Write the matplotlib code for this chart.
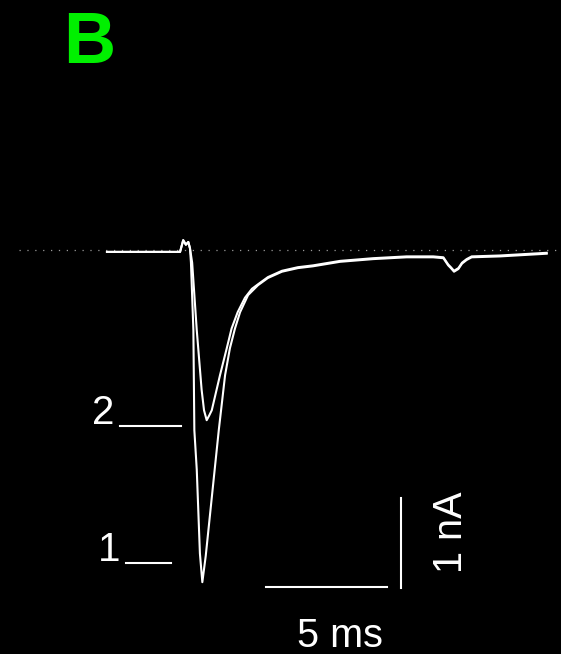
import matplotlib
matplotlib.use("Agg")
import matplotlib.pyplot as plt

plt.rcParams["font.family"] = ["Liberation Sans", "DejaVu Sans"]

# Evoked currents, time in ms, current in nA (baseline = 0)
t_pulse1 = [0.00, 0.95, 2.19, 3.02, 3.15, 3.26, 3.36, 3.43, 3.47, 3.57, 3.61,
            3.71, 3.84, 3.94, 4.08, 4.45, 4.62, 4.88, 5.08, 5.29, 5.50, 5.83,
            6.24, 6.65, 7.23, 7.89, 8.51, 9.63, 11.00, 12.38, 13.48, 13.90,
            14.10, 14.21, 14.34, 14.52, 14.67, 14.86, 15.07, 16.24, 18.17]
i_pulse1 = [-0.01, -0.01, -0.01, -0.01, 0.12, 0.07, 0.10, 0.03, -0.13, -0.88,
            -1.99, -2.43, -3.36, -3.68, -3.39, -2.43, -1.99, -1.38, -1.08,
            -0.86, -0.68, -0.49, -0.38, -0.30, -0.23, -0.19, -0.17, -0.12,
            -0.09, -0.07, -0.07, -0.08, -0.16, -0.19, -0.23, -0.20, -0.14,
            -0.10, -0.07, -0.06, -0.03]

t_pulse2 = [0.00, 0.95, 2.19, 3.02, 3.15, 3.26, 3.36, 3.43, 3.52, 3.71, 3.91,
            4.01, 4.12, 4.22, 4.33, 4.67, 4.95, 5.15, 5.40, 5.70, 5.99, 6.24,
            6.65, 7.23, 7.89, 8.51, 9.63, 11.00, 12.38, 13.48, 13.90, 14.10,
            14.21, 14.34, 14.52, 14.67, 14.86, 15.07, 16.24, 18.17]
i_pulse2 = [-0.01, -0.01, -0.01, -0.01, 0.12, 0.07, 0.10, 0.03, -0.13, -0.88,
            -1.54, -1.77, -1.88, -1.83, -1.77, -1.38, -1.08, -0.86, -0.68,
            -0.52, -0.42, -0.37, -0.29, -0.22, -0.18, -0.16, -0.11, -0.08,
            -0.06, -0.06, -0.07, -0.15, -0.18, -0.22, -0.19, -0.13, -0.09,
            -0.06, -0.05, -0.02]

# peak amplitude markers (nA) and their labels
peak_levels = [-3.47, -1.94]
peak_labels = ["1", "2"]
peak_marks = [(0.79, 2.64), (0.54, 3.06)]

# scale bars: 5 ms and 1 nA
bar_ms = 5.0
bar_na = 1.0

fig = plt.figure(figsize=(5.61, 6.54), dpi=100, facecolor="black")
ax = fig.add_axes([0, 0, 1, 1])
ax.set_facecolor("black")
ax.set_xlim(-4.42, 18.76)
ax.set_ylim(-4.478, 2.789)
ax.axis("off")

# baseline reference
ax.axhline(0.01, xmin=0.033, xmax=0.995, color="#9a9a9a", lw=0.9,
           dashes=(1.0, 5.3))

ax.plot(t_pulse1, i_pulse1, color="white", lw=1.5, solid_joinstyle="round")
ax.plot(t_pulse2, i_pulse2, color="white", lw=1.5, solid_joinstyle="round")

for level, label, (x0, x1) in zip(peak_levels, peak_labels, peak_marks):
    ax.plot([x0, x1], [level, level], color="white", lw=1.5)
    ax.text(x0 - 0.25, level + 0.02, label, color="white", fontsize=29,
            ha="right", va="baseline")

x_bar, y_bar = 6.57, -3.73
ax.plot([x_bar, x_bar + bar_ms], [y_bar, y_bar], color="white", lw=1.5)
ax.plot([12.14, 12.14], [y_bar - 0.01, y_bar - 0.01 + bar_na],
        color="white", lw=1.5)
ax.text(x_bar + bar_ms / 2 + 0.55, -4.40, "5 ms", color="white",
        fontsize=28.5, ha="center", va="baseline")
ax.text(14.21, -3.13, "1 nA", color="white", fontsize=28.5,
        rotation=90, ha="center", va="center")

fig.text(0.1592, 0.9032, "B", color="#00f000", fontsize=52,
         fontweight="bold", ha="center", va="baseline")

fig.savefig("out.png", dpi=100, facecolor="black")
